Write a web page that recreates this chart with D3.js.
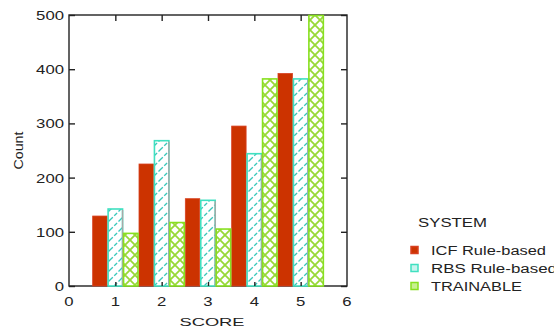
<!DOCTYPE html>
<html><head><meta charset="utf-8">
<script src="https://cdn.jsdelivr.net/npm/d3@7"></script>
<style>body{margin:0;background:#fff}</style>
</head><body>
<script>
const categories = [1, 2, 3, 4, 5];
const icf = [130, 226, 162, 296, 393];
const rbs = [143, 269, 159, 245, 383];
const trainable = [98, 118, 106, 383, 500];
const seriesNames = ["ICF Rule-based", "RBS Rule-based", "TRAINABLE"];
const xTicks = [0, 1, 2, 3, 4, 5, 6];
const yTicks = [0, 100, 200, 300, 400, 500];

const W = 554, H = 331;
const m = {l: 69, r: 207, t: 15, b: 45};
const svg = d3.select("body").append("svg").attr("width", W).attr("height", H)
  .style("font-family", "Liberation Sans, Arial, sans-serif");

const defs = svg.append("defs");
const p1 = defs.append("pattern").attr("id", "hatch").attr("patternUnits", "userSpaceOnUse")
  .attr("width", 10).attr("height", 10);
p1.append("rect").attr("width", 10).attr("height", 10).attr("fill", "#fff");
p1.append("path").attr("d", "M0,10 L10,0 M-2,2 L2,-2 M8,12 L12,8")
  .attr("stroke", "#38c8bc").attr("stroke-width", 1.3).attr("stroke-dasharray", "4,2");
const p2 = defs.append("pattern").attr("id", "cross").attr("patternUnits", "userSpaceOnUse")
  .attr("width", 10).attr("height", 10);
p2.append("rect").attr("width", 10).attr("height", 10).attr("fill", "#fff");
p2.append("path").attr("d", "M0,0 L10,10 M0,10 L10,0")
  .attr("stroke", "#98d838").attr("stroke-width", 1.8);

const x = d3.scaleLinear().domain([0, 6]).range([m.l, W - m.r]);
const y = d3.scaleLinear().domain([0, 500]).range([H - m.b, m.t]);

const fills = ["#cc3300", "url(#hatch)", "url(#cross)"];
const strokes = ["#d84020", "#40e0c0", "#88e020"];
const series = [icf, rbs, trainable];

// frame
svg.append("rect").attr("x", x(0)).attr("y", y(500)).attr("width", x(6) - x(0)).attr("height", y(0) - y(500))
  .attr("fill", "none").attr("stroke", "#222").attr("stroke-width", 1.4);

const bw = 1 / 3;
series.forEach((vals, s) => {
  const g = svg.append("g");
  g.selectAll("rect").data(categories).join("rect")
    .attr("x", (c) => x(c - 0.5 + s * bw) + 0.5)
    .attr("width", x(bw) - x(0) - 1)
    .attr("y", (c, i) => y(vals[i]) + 0.5)
    .attr("height", (c, i) => y(0) - y(vals[i]) - 0.5)
    .attr("fill", fills[s])
    .attr("stroke", strokes[s])
    .attr("stroke-width", s === 0 ? 0.8 : 1.6);
  if (s === 1) {
    g.selectAll("line").data(categories).join("line")
      .attr("x1", (c) => x(c - 0.5 + (s + 1) * bw) - 0.5)
      .attr("x2", (c) => x(c - 0.5 + (s + 1) * bw) - 0.5)
      .attr("y1", (c, i) => y(vals[i]) + 1.5)
      .attr("y2", y(0))
      .attr("stroke", "#a8a8a8").attr("stroke-width", 1.4);
  }
});

// inward ticks
const axL = d3.axisRight(y).tickValues(yTicks).tickSize(6).tickFormat("");
svg.append("g").attr("transform", `translate(${x(0)},0)`).call(axL);
const axR = d3.axisLeft(y).tickValues(yTicks).tickSize(6).tickFormat("");
svg.append("g").attr("transform", `translate(${x(6)},0)`).call(axR);
const axT = d3.axisBottom(x).tickValues(categories).tickSize(6).tickFormat("");
svg.append("g").attr("transform", `translate(0,${y(500)})`).call(axT);
const axB = d3.axisTop(x).tickValues(categories).tickSize(4).tickFormat("");
svg.append("g").attr("transform", `translate(0,${y(0)})`).call(axB);
svg.selectAll(".domain").remove();
svg.selectAll(".tick line").attr("stroke", "#222").attr("stroke-width", 1.4);

// labels
svg.append("g").selectAll("text").data(yTicks).join("text")
  .attr("x", x(0) - 5).attr("y", d => y(d) + 5).attr("text-anchor", "end")
  .attr("font-size", 13).attr("fill", "#222")
  .attr("textLength", d => String(d).length * 9.3).attr("lengthAdjust", "spacingAndGlyphs")
  .text(d => d);
svg.append("g").selectAll("text").data(xTicks).join("text")
  .attr("x", d => x(d)).attr("y", y(0) + 20).attr("text-anchor", "middle")
  .attr("font-size", 13).attr("fill", "#222")
  .attr("textLength", 9.3).attr("lengthAdjust", "spacingAndGlyphs")
  .text(d => d);

svg.append("text").attr("transform", `translate(23,${(y(0) + y(500)) / 2}) rotate(-90)`)
  .attr("text-anchor", "middle").attr("font-size", 12).attr("fill", "#222")
  .attr("textLength", 38).attr("lengthAdjust", "spacingAndGlyphs").text("Count");
svg.append("text").attr("x", (x(0) + x(6)) / 2 + 4).attr("y", 326).attr("text-anchor", "middle")
  .attr("font-size", 11).attr("fill", "#222")
  .attr("textLength", 65).attr("lengthAdjust", "spacingAndGlyphs").text("SCORE");

// legend
const lg = svg.append("g");
lg.append("text").attr("x", 418).attr("y", 227).attr("font-size", 12).attr("fill", "#222")
  .attr("textLength", 69).attr("lengthAdjust", "spacingAndGlyphs").text("SYSTEM");
const legLen = [115, 126, 91];
seriesNames.forEach((n, i) => {
  const yy = 250 + i * 18;
  lg.append("rect").attr("x", 411).attr("y", yy - 3.5).attr("width", 7).attr("height", 7)
    .attr("fill", i === 0 ? "#cc3300" : (i === 1 ? "#c8f4ee" : "#c8f090"))
    .attr("stroke", strokes[i]).attr("stroke-width", 1.5);
  lg.append("text").attr("x", 431).attr("y", yy + 5).attr("font-size", 12.5).attr("fill", "#222")
    .attr("textLength", legLen[i]).attr("lengthAdjust", "spacingAndGlyphs").text(n);
});
</script>
</body></html>
